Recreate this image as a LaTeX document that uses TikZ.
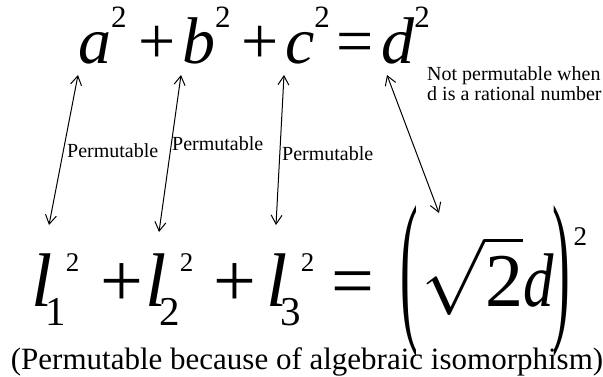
\documentclass[tikz,border=0pt]{standalone}
\usepackage{fontspec}
\setmainfont{Liberation Serif}
\usepackage{graphicx}
\usetikzlibrary{arrows.meta}

% raised square digit: #1 raise, #2 size
\newcommand{\sqdigit}[2]{\raisebox{#1}{\fontsize{#2}{#2}\selectfont 2}}
% l with index and square
\newcommand{\lterm}[1]{\textit{l}\kern-7pt\raisebox{-19pt}{\fontsize{41}{41}\selectfont #1}\sqdigit{35pt}{27}}
% tall parenthesis
\newcommand{\tallparen}[1]{\raisebox{-15pt}{\scalebox{0.7}[2.2]{#1}}}

\begin{document}
\begin{tikzpicture}[x=1pt,y=-1pt,
  topterm/.style={inner sep=0pt,anchor=base west,font=\fontsize{66}{70}\selectfont},
  botterm/.style={inner sep=0pt,anchor=base west,font=\fontsize{76}{80}\selectfont},
  note/.style={inner sep=0pt,anchor=base west,font=\fontsize{20}{18}\selectfont,align=left},
  link/.style={{Straight Barb[length=9pt,width=11pt]}-{Straight Barb[length=9pt,width=11pt]},line width=1pt},
]
\useasboundingbox (0,0) rectangle (603,376);

% Upper equation
\node[topterm] (a) at (78,63) {\textit{a}\sqdigit{36pt}{31}};
\node[topterm] (p1) at (138,63) {+};
\node[topterm] (b) at (182,63) {\textit{b}\sqdigit{36pt}{31}};
\node[topterm] (p2) at (241,63) {+};
\node[topterm] (c) at (285,63) {\textit{c}\sqdigit{36pt}{31}};
\node[topterm] (eq1) at (336,63) {=};
\node[topterm] (d) at (381,63) {\textit{d}\sqdigit{36pt}{31}};

% Lower equation
\node[botterm] (l1) at (31,306) {\lterm{1}};
\node[botterm] (p3) at (100,306) {+};
\node[botterm] (l2) at (145,306) {\lterm{2}};
\node[botterm] (p4) at (213,306) {+};
\node[botterm] (l3) at (266,306) {\lterm{3}};
\node[botterm] (eq2) at (331,306) {=};
\node[botterm] (rhs) at (400,306)
  {\tallparen{(}\kern4pt\scalebox{7.6}{\fontsize{10}{12}\selectfont$\sqrt{\mbox{2}}$}%
   \scalebox{0.8}[1]{\textit{d}}\kern-1pt\tallparen{)}\kern3pt\sqdigit{61pt}{27}};

% Labels
\node[note] (n1) at (67,157) {Permutable};
\node[note] (n2) at (172,150) {Permutable};
\node[note] (n3) at (282,160) {Permutable};
\node[note] (n4) at (427,100) {Not permutable when\\d is a rational number};

% Caption
\node[inner sep=0pt,anchor=base,font=\fontsize{31}{33}\selectfont] (cap) at (307,369)
  {(Permutable because of algebraic isomorphism)};

% Correspondences
\draw[link] ([shift={(0,12)}]a.base west) -- ([shift={(18,-81)}]l1.base west);
\draw[link] ([shift={(-1,12)}]b.base west) -- ([shift={(14,-74)}]l2.base west);
\draw[link] ([shift={(-1,12)}]c.base west) -- ([shift={(10,-81)}]l3.base west);
\draw[link] ([shift={(6,12)}]d.base west) -- ([shift={(39,-93)}]rhs.base west);

\end{tikzpicture}
\end{document}
